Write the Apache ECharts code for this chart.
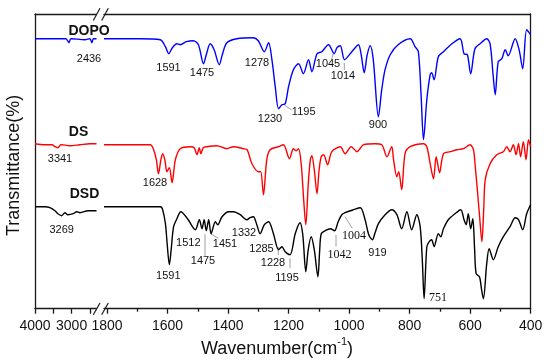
<!DOCTYPE html>
<html><head><meta charset="utf-8">
<script src="https://cdn.jsdelivr.net/npm/echarts@6/dist/echarts.min.js"></script>
<style>html,body{margin:0;padding:0;background:#fff}#c{width:550px;height:364px}</style>
</head><body><div id="c"></div>
<script>
// Wavenumbers (cm-1) and transmittance (arbitrary offset units)
const dopoWn = [4000,3319,3155,3073,3019,2637,2501,2447,2406,2320,
  1810,1690,1624,1607,1596,1584,1569,1558,1538,1515,1498,1481,1472,1459,1446,1429,1419,1404,1371,1317,
  1300,1280,1266,1255,1244,1233,1222,1211,1200,1184,1167,1151,1134,1123,1106,1090,1068,1049,1040,1029,
  1015,991,969,960,950,940,930,920,903,892,881,864,838,798,782,771,762,754,743,732,
  727,719,705,688,660,633,620,609,598,584,567,545,534,524,517,507,495,484,474,451,438,426,413,400];
const dopoT = [270,270,270,266,270,269,270,266,270,270,
  270,270,269,262,255,261,265,264,267,268,264,245,254,265,259,244,254,266,270,271,
  268,257,266,249,222,200,204,205,222,239,245,235,249,237,255,257,264,255,261,263,
  249,257,264,254,236,254,263,249,192,219,239,254,264,270,262,257,214,169,209,234,
  236,229,252,257,265,270,255,254,235,260,265,270,265,234,214,247,250,259,253,270,259,240,279,274];

const dsWn = [4000,3728,3537,3455,3373,3292,3046,2774,2501,2320,
  1810,1657,1646,1637,1630,1622,1616,1609,1602,1594,1585,1574,1558,1525,1512,1503,1495,1490,1482,1470,
  1437,1404,1382,1349,1337,1321,1299,1292,1283,1272,1261,1233,1217,1197,1184,1175,1167,1158,1150,1143,
  1135,1128,1123,1115,1106,1099,1092,1084,1071,1057,1029,1013,993,974,952,914,892,875,859,853,
  842,836,826,815,798,754,743,732,721,712,701,688,666,644,622,600,589,582,576,569,
  561,555,550,534,512,490,479,468,457,448,440,433,424,415,407,400];
const dsT = [165,164,164,162,161,164,163,164,165,165,
  164,164,159,149,135,149,155,149,137,141,126,149,160,162,161,154,161,155,161,162,
  163,160,162,160,159,145,137,137,114,149,159,162,164,150,160,158,160,144,109,84,
  124,149,153,139,115,139,152,154,144,157,162,155,162,157,164,165,164,152,162,149,
  132,137,119,155,162,165,162,145,130,152,136,155,157,159,160,164,159,139,119,94,
  67,99,129,145,154,157,162,157,164,154,165,152,167,149,169,162];

const dsdWn = [4000,3728,3591,3455,3373,3272,3183,3101,2956,2856,2774,2548,2320,
  1810,1624,1617,1607,1601,1594,1588,1580,1569,1556,1534,1508,1495,1486,1479,1472,1464,1456,1442,1434,
  1420,1398,1382,1360,1338,1327,1316,1305,1294,1280,1266,1250,1233,1222,1211,1195,1178,1162,1153,1143,
  1135,1125,1115,1103,1097,1092,1079,1062,1048,1036,1024,1013,985,963,947,935,923,914,903,881,
  859,842,826,809,793,776,765,758,752,743,735,727,719,705,697,688,672,650,631,620,
  613,606,598,591,585,580,569,562,556,545,537,523,507,490,468,451,440,426,413,400];
const dsdT = [102,102,101,98,95,93,96,94,95,97,96,98,98,
  102,102,100,85,64,44,59,82,90,97,90,79,89,80,89,78,89,75,87,84,
  92,97,97,94,89,91,92,84,75,84,87,75,59,62,57,54,75,86,74,37,
  59,72,59,32,59,75,78,80,78,87,94,96,99,101,89,74,69,76,85,94,
  99,94,80,97,79,94,82,49,10,62,67,69,62,75,72,80,89,95,99,89,
  84,95,80,90,59,35,32,19,10,45,60,49,62,72,82,91,89,79,95,104];

const seriesNames = ['DOPO','DS','DSD'];
const highTicks = [4000,3500,3000,2500];
const highLabels = [4000,3000];
const lowMajor = [1800,1600,1400,1200,1000,800,600,400];
const lowMinor = [1700,1500,1300,1100,900,700,500];

function seg(wn, t, hi) {
  const out = [];
  for (let i = 0; i < wn.length; i++) {
    if (hi ? wn[i] >= 2000 : wn[i] <= 1810) out.push([wn[i], t[i]]);
  }
  return out;
}

const SANS = 'Liberation Sans, Arial, Helvetica, sans-serif';
const SERIF = 'Liberation Serif, Times New Roman, serif';
const AX = {color:'#1a1a1a', width:1.3};
const colors = ['#0000ff','#ff0000','#000000'];
const allData = [[dopoWn,dopoT],[dsWn,dsT],[dsdWn,dsdT]];

const series = [];
allData.forEach((d, k) => {
  [true,false].forEach(hi => {
    series.push({
      name: seriesNames[k], type:'line',
      xAxisIndex: hi ? 0 : 2, yAxisIndex: hi ? 0 : 1,
      data: seg(d[0], d[1], hi),
      showSymbol:false, smooth:0.3,
      lineStyle:{color:colors[k], width:1.4},
      itemStyle:{color:colors[k]}, animation:false
    });
  });
});

function txt(s, x, y, opt) {
  opt = opt || {};
  return {type:'text', x:x, y:y, silent:true, style:{text:s, textAlign:'center', textVerticalAlign:'middle',
    font:(opt.bold?'bold ':'') + (opt.size||11) + 'px ' + (opt.serif?SERIF:SANS), fill:'#111'}};
}
function ln(x1,y1,x2,y2,c,w) {
  return {type:'line', silent:true, shape:{x1:x1,y1:y1,x2:x2,y2:y2}, style:{stroke:c||'#888', lineWidth:w||0.8}};
}

const graphics = [
  txt('DOPO', 89, 31.5, {bold:true, size:14}),
  txt('DS', 78.5, 132, {bold:true, size:14}),
  txt('DSD', 84.5, 193.7, {bold:true, size:14}),
  txt('2436', 89, 59), txt('1591', 168.5, 67.5), txt('1475', 202, 72.5), txt('1278', 257, 62.5),
  txt('1230', 270, 119), txt('1195', 303.7, 112), txt('1045', 328, 64), txt('1014', 343, 76),
  txt('900', 378, 124.5),
  txt('3341', 60, 159), txt('1628', 155, 182.5),
  txt('3269', 61.7, 229.5), txt('1591', 168.3, 276), txt('1512', 188.3, 243), txt('1475', 203, 261),
  txt('1451', 225, 244), txt('1332', 244, 233), txt('1285', 261.5, 248.5), txt('1228', 273, 262.5),
  txt('1195', 287, 277.5), txt('1042', 339.5, 254.5, {serif:true, size:12}), txt('1004', 354, 236, {serif:true, size:12}),
  txt('919', 377.5, 252.5), txt('751', 438, 297.5, {serif:true, size:12}),
  ln(284.3,105,291.7,110), ln(333.3,53.5,331.7,59.3), ln(344.3,63,344.3,70),
  ln(205,234,205,256), ln(210,233.3,218.3,238.3), ln(278.3,247,278.3,255),
  ln(290,258.3,290,268.3), ln(336,235,336,246.5), ln(345,216.7,352.3,228.3),
  // axis break marks
  ln(93.3,20.5,100,8.3,'#1a1a1a',1.2), ln(101.7,20.5,108.3,8.3,'#1a1a1a',1.2),
  ln(93.3,314.7,100,303,'#1a1a1a',1.2), ln(101.7,314.7,108.3,303,'#1a1a1a',1.2),
  {type:'text', x:277, y:347, silent:true, style:{
    text:'{a|Wavenumber(cm}{s|-1}{a|)}', textAlign:'center', textVerticalAlign:'middle',
    rich:{a:{fontSize:18, fontFamily:SANS, fill:'#111', color:'#111', lineHeight:22, verticalAlign:'bottom'},
          s:{fontSize:11, fontFamily:SANS, fill:'#111', color:'#111', lineHeight:22, verticalAlign:'top'}}}}
];

const plain = v => String(v);
const baseX = {type:'value', splitLine:{show:false}, axisLine:{show:true, onZero:false, lineStyle:AX}};
const option = {
  animation:false,
  backgroundColor:'#fff',
  grid:[
    {left:35, top:14, width:61.5, height:294.7, containLabel:false, outerBoundsMode:'none'},
    {left:104, top:14, width:426.6, height:294.7, containLabel:false, outerBoundsMode:'none'}
  ],
  xAxis:[
    Object.assign({}, baseX, {gridIndex:0, position:'bottom', min:2320, max:4000, inverse:true,
      axisTick:{show:true, customValues:highTicks, length:5, lineStyle:AX},
      axisLabel:{customValues:highLabels, formatter:plain, margin:10, fontSize:14, color:'#111', fontFamily:SANS}}),
    Object.assign({}, baseX, {gridIndex:0, position:'top', min:2320, max:4000, inverse:true,
      axisTick:{show:false}, axisLabel:{show:false}}),
    Object.assign({}, baseX, {gridIndex:1, position:'bottom', min:400, max:1810, inverse:true,
      axisTick:{show:true, customValues:lowMajor, length:5, lineStyle:AX},
      axisLabel:{customValues:lowMajor, formatter:plain, margin:10, fontSize:14, color:'#111', fontFamily:SANS}}),
    Object.assign({}, baseX, {gridIndex:1, position:'bottom', min:400, max:1810, inverse:true,
      axisLine:{show:false}, axisTick:{show:true, customValues:lowMinor, length:3, lineStyle:AX}, axisLabel:{show:false}}),
    Object.assign({}, baseX, {gridIndex:1, position:'top', min:400, max:1810, inverse:true,
      axisTick:{show:false}, axisLabel:{show:false}})
  ],
  yAxis:[
    {type:'value', gridIndex:0, min:0, max:294.7, position:'left',
      axisLine:{show:true, lineStyle:AX}, axisTick:{show:false}, axisLabel:{show:false}, splitLine:{show:false},
      name:'Transmittance(%)', nameLocation:'middle', nameGap:12,
      nameTextStyle:{fontSize:18, color:'#111', fontFamily:SANS, padding:[0,0,0,-8]}},
    {type:'value', gridIndex:1, min:0, max:294.7, position:'right',
      axisLine:{show:true, lineStyle:AX}, axisTick:{show:false}, axisLabel:{show:false}, splitLine:{show:false}}
  ],
  series: series,
  graphic: graphics
};
const chart = echarts.init(document.getElementById('c'), null, {renderer:'canvas'});
chart.setOption(option);
</script></body></html>
